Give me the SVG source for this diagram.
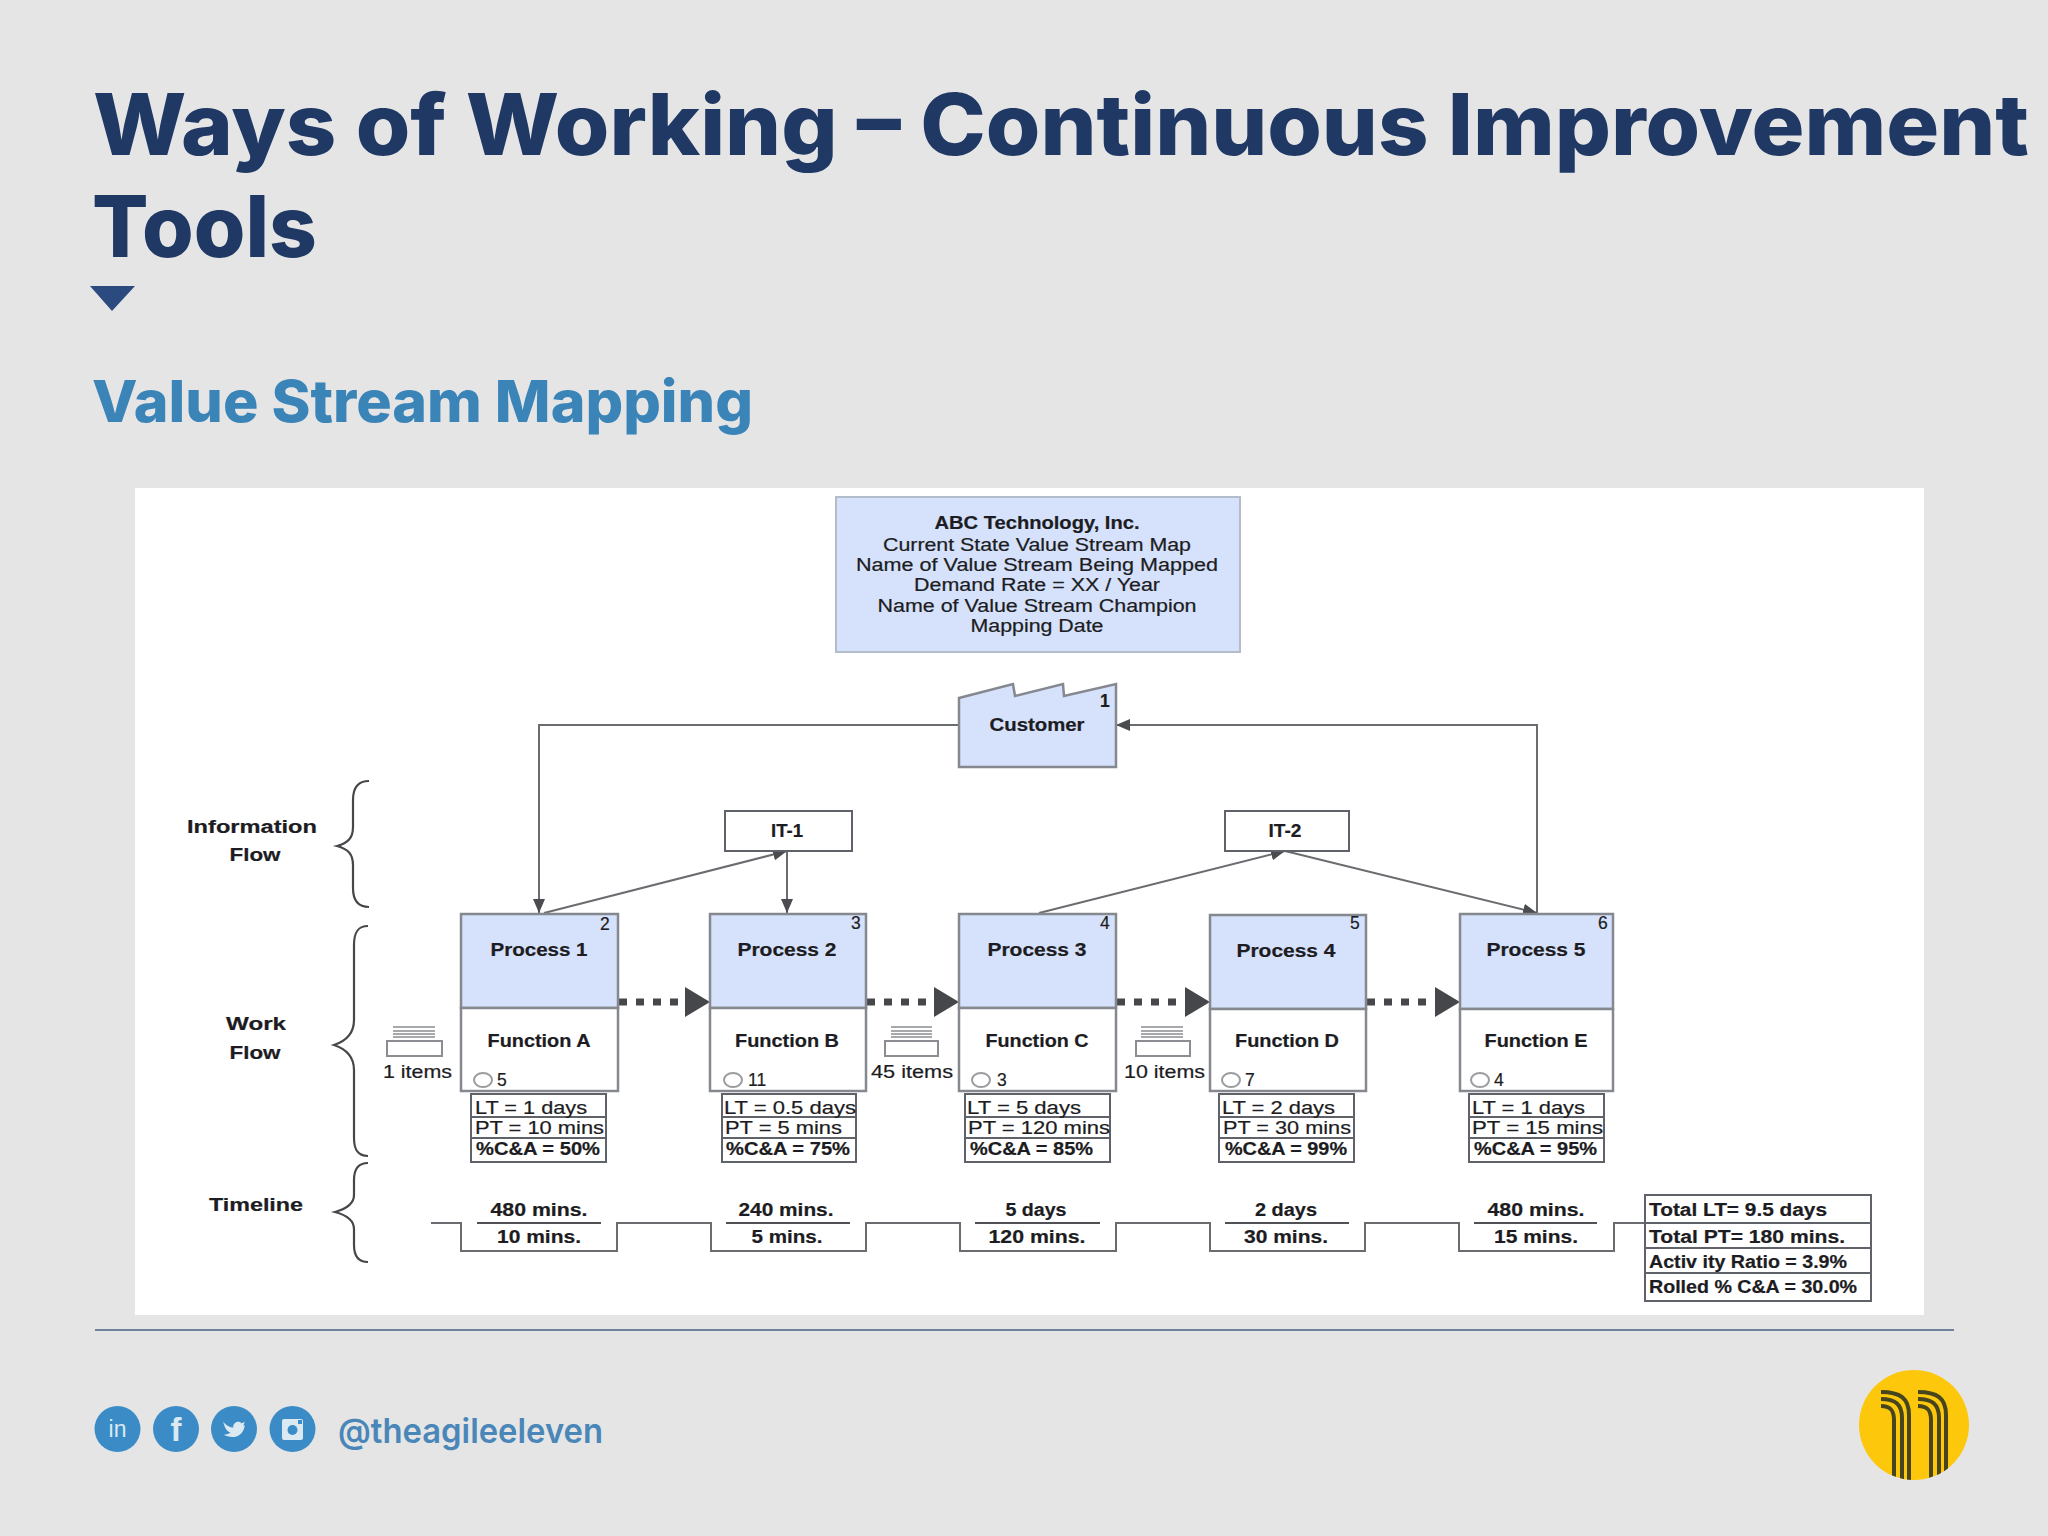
<svg xmlns="http://www.w3.org/2000/svg" width="2048" height="1536" viewBox="0 0 2048 1536">
<style>
.t{font-family:"Liberation Sans",Arial,sans-serif;fill:#1c1c22;font-size:17.500px;stroke:#1c1c22;stroke-width:.2}
.b{font-weight:700}
.m{text-anchor:middle}
.box{fill:#fff;stroke:#5f6268;stroke-width:2}
.proc{fill:#fff;stroke:#85888e;stroke-width:2.500}
.blue{fill:#d6e2fb;stroke:#85888e;stroke-width:2.500}
.head-box{fill:#d6e2fb;stroke:#b3bccb;stroke-width:2}
.edge{fill:none;stroke:#6a6c70;stroke-width:2}
.flow{fill:none;stroke:#45474a;stroke-width:7;stroke-dasharray:8 9}
.brace{fill:none;stroke:#45474a;stroke-width:2.200}
.stripe{fill:none;stroke:#8b8d92;stroke-width:1.600}
.head{font-family:Inter,"Liberation Sans",sans-serif;font-weight:800}
.logo{fill:none;stroke:#46451d;stroke-width:4}
.ic{fill:#3b8cc6}
.ict{font-family:"Liberation Sans",sans-serif;fill:#dbe9f3;text-anchor:middle}
</style>
<defs>
<marker id="a" markerUnits="userSpaceOnUse" markerWidth="14" markerHeight="12" refX="14" refY="6" orient="auto"><path d="M0 0L14 6L0 12Z" fill="#4a4c50"/></marker>
<clipPath id="logo-clip"><circle cx="1914" cy="1425" r="55"/></clipPath>
</defs>
<rect width="2048" height="1536" fill="#e5e5e6"/>
<g id="header">
<text class="head" x="93" y="155" font-size="85" fill="#1f3864" textLength="1936" lengthAdjust="spacingAndGlyphs">Ways of Working – Continuous Improvement</text>
<text class="head" x="92" y="257" font-size="85" fill="#1f3864" textLength="225" lengthAdjust="spacingAndGlyphs">Tools</text>
<path d="M90 286H135L112 311Z" fill="#2b4a80"/>
<text class="head" x="92" y="422" font-size="58" fill="#3a84b8" textLength="661" lengthAdjust="spacingAndGlyphs">Value Stream Mapping</text>
</g>
<rect id="card" x="135" y="488" width="1789" height="827" fill="#fff"/>
<g id="title-box">
<rect class="head-box" x="836" y="497" width="404" height="155"/>
<text class="t b m" x="1037" y="529" textLength="205" lengthAdjust="spacingAndGlyphs">ABC Technology, Inc.</text>
<text class="t m" x="1037" y="551" textLength="308" lengthAdjust="spacingAndGlyphs">Current State Value Stream Map</text>
<text class="t m" x="1037" y="571" textLength="362" lengthAdjust="spacingAndGlyphs">Name of Value Stream Being Mapped</text>
<text class="t m" x="1037" y="591" textLength="246" lengthAdjust="spacingAndGlyphs">Demand Rate = XX / Year</text>
<text class="t m" x="1037" y="612" textLength="319" lengthAdjust="spacingAndGlyphs">Name of Value Stream Champion</text>
<text class="t m" x="1037" y="632" textLength="133" lengthAdjust="spacingAndGlyphs">Mapping Date</text>
</g>
<g id="connectors">
<path class="edge" d="M960 725H539V913" marker-end="url(#a)"/>
<path class="edge" d="M1537 913V725H1116" marker-end="url(#a)"/>
<path class="edge" d="M544 913L787 851" marker-end="url(#a)"/>
<path class="edge" d="M787 851V913" marker-end="url(#a)"/>
<path class="edge" d="M1039 913L1285 851" marker-end="url(#a)"/>
<path class="edge" d="M1285 851L1537 913" marker-end="url(#a)"/>
<path class="flow" d="M619 1002H682"/><path d="M685 987L710 1002L685 1017Z" fill="#45474a"/>
<path class="flow" d="M867 1002H930"/><path d="M934 987L959 1002L934 1017Z" fill="#45474a"/>
<path class="flow" d="M1117 1002H1180"/><path d="M1185 987L1210 1002L1185 1017Z" fill="#45474a"/>
<path class="flow" d="M1367 1002H1430"/><path d="M1435 987L1460 1002L1435 1017Z" fill="#45474a"/>
</g>
<g id="customer">
<path class="blue" d="M959 698L1013 684L1015 696L1063 684L1064 696L1116 684V767H959Z"/>
<text class="t b m" x="1037" y="731" textLength="95" lengthAdjust="spacingAndGlyphs">Customer</text>
<text class="t b" x="1100" y="707" font-size="12">1</text>
</g>
<g id="it-1"><rect class="box" x="725" y="811" width="127" height="40"/><text class="t b m" x="787" y="837" textLength="32" lengthAdjust="spacingAndGlyphs">IT-1</text></g>
<g id="it-2"><rect class="box" x="1225" y="811" width="124" height="40"/><text class="t b m" x="1285" y="837" textLength="33" lengthAdjust="spacingAndGlyphs">IT-2</text></g>
<g id="labels">
<text class="t b m" x="252" y="833" font-size="20" textLength="130" lengthAdjust="spacingAndGlyphs">Information</text>
<text class="t b m" x="255" y="861" font-size="20" textLength="51" lengthAdjust="spacingAndGlyphs">Flow</text>
<text class="t b m" x="256" y="1030" font-size="20" textLength="60" lengthAdjust="spacingAndGlyphs">Work</text>
<text class="t b m" x="255" y="1059" font-size="20" textLength="51" lengthAdjust="spacingAndGlyphs">Flow</text>
<text class="t b m" x="256" y="1211" font-size="20" textLength="94" lengthAdjust="spacingAndGlyphs">Timeline</text>
<path class="brace" d="M369 781C358 781 353 787 353 800V827C353 838 348 843 337 846C348 849 353 854 353 865V888C353 901 358 907 369 907"/>
<path class="brace" d="M368 926C358 926 354 932 354 945V1020C354 1034 346 1041 334 1045C346 1049 354 1056 354 1070V1138C354 1150 358 1156 368 1156"/>
<path class="brace" d="M368 1163C358 1163 354 1169 354 1180V1195C354 1204 346 1209 335 1212C346 1215 354 1220 354 1229V1245C354 1256 358 1262 368 1262"/>
</g>
<g id="process-1">
<rect class="blue" x="461" y="914" width="157" height="94"/><rect class="proc" x="461" y="1008" width="157" height="83"/>
<text class="t b m" x="539" y="956" font-size="19" textLength="97" lengthAdjust="spacingAndGlyphs">Process 1</text>
<text class="t b m" x="539" y="1047" font-size="19" textLength="103" lengthAdjust="spacingAndGlyphs">Function A</text>
<text class="t" x="600" y="930" font-size="13" fill="#1f3864">2</text>
<ellipse class="box" cx="483" cy="1080" rx="9" ry="7" style="stroke:#9a9c9f"/><text class="t" x="497" y="1086" font-size="16">5</text>
</g>
<g id="process-2">
<rect class="blue" x="710" y="914" width="156" height="94"/><rect class="proc" x="710" y="1008" width="156" height="83"/>
<text class="t b m" x="787" y="956" font-size="19" textLength="99" lengthAdjust="spacingAndGlyphs">Process 2</text>
<text class="t b m" x="787" y="1047" font-size="19" textLength="104" lengthAdjust="spacingAndGlyphs">Function B</text>
<text class="t" x="851" y="929" font-size="13" fill="#1f3864">3</text>
<ellipse class="box" cx="733" cy="1080" rx="9" ry="7" style="stroke:#9a9c9f"/><text class="t" x="748" y="1086" font-size="16">11</text>
</g>
<g id="process-3">
<rect class="blue" x="959" y="914" width="157" height="94"/><rect class="proc" x="959" y="1008" width="157" height="83"/>
<text class="t b m" x="1037" y="956" font-size="19" textLength="99" lengthAdjust="spacingAndGlyphs">Process 3</text>
<text class="t b m" x="1037" y="1047" font-size="19" textLength="103" lengthAdjust="spacingAndGlyphs">Function C</text>
<text class="t" x="1100" y="929" font-size="13" fill="#1f3864">4</text>
<ellipse class="box" cx="981" cy="1080" rx="9" ry="7" style="stroke:#9a9c9f"/><text class="t" x="997" y="1086" font-size="16">3</text>
</g>
<g id="process-4">
<rect class="blue" x="1210" y="915" width="156" height="94"/><rect class="proc" x="1210" y="1009" width="156" height="82"/>
<text class="t b m" x="1286" y="957" font-size="19" textLength="99" lengthAdjust="spacingAndGlyphs">Process 4</text>
<text class="t b m" x="1287" y="1047" font-size="19" textLength="104" lengthAdjust="spacingAndGlyphs">Function D</text>
<text class="t" x="1350" y="929" font-size="13" fill="#1f3864">5</text>
<ellipse class="box" cx="1231" cy="1080" rx="9" ry="7" style="stroke:#9a9c9f"/><text class="t" x="1245" y="1086" font-size="16">7</text>
</g>
<g id="process-5">
<rect class="blue" x="1460" y="914" width="153" height="95"/><rect class="proc" x="1460" y="1009" width="153" height="82"/>
<text class="t b m" x="1536" y="956" font-size="19" textLength="99" lengthAdjust="spacingAndGlyphs">Process 5</text>
<text class="t b m" x="1536" y="1047" font-size="19" textLength="103" lengthAdjust="spacingAndGlyphs">Function E</text>
<text class="t" x="1598" y="929" font-size="13" fill="#1f3864">6</text>
<ellipse class="box" cx="1480" cy="1080" rx="9" ry="7" style="stroke:#9a9c9f"/><text class="t" x="1494" y="1086" font-size="16">4</text>
</g>
<g id="inventory-1">
<path class="stripe" d="M393 1027H435M393 1031H435M393 1034H435M393 1037H435"/><rect class="box" x="387" y="1041" width="55" height="15" style="stroke:#8b8d92"/>
<text class="t" x="383" y="1078" font-size="16" textLength="69" lengthAdjust="spacingAndGlyphs">1 items</text>
</g>
<g id="inventory-2">
<path class="stripe" d="M891 1027H932M891 1031H932M891 1034H932M891 1037H932"/><rect class="box" x="885" y="1041" width="53" height="15" style="stroke:#8b8d92"/>
<text class="t" x="871" y="1078" font-size="16" textLength="82" lengthAdjust="spacingAndGlyphs">45 items</text>
</g>
<g id="inventory-3">
<path class="stripe" d="M1141 1027H1183M1141 1031H1183M1141 1034H1183M1141 1037H1183"/><rect class="box" x="1136" y="1041" width="54" height="15" style="stroke:#8b8d92"/>
<text class="t" x="1124" y="1078" font-size="16" textLength="81" lengthAdjust="spacingAndGlyphs">10 items</text>
</g>
<g id="data-1">
<rect class="box" x="471" y="1094" width="135" height="68"/><path class="edge" d="M471 1117H606M471 1138H606" style="stroke:#5f6268"/>
<text class="t" x="475" y="1114" textLength="112" lengthAdjust="spacingAndGlyphs">LT = 1 days</text>
<text class="t" x="475" y="1134" textLength="129" lengthAdjust="spacingAndGlyphs">PT = 10 mins</text>
<text class="t b" x="476" y="1155" textLength="124" lengthAdjust="spacingAndGlyphs">%C&amp;A = 50%</text>
</g>
<g id="data-2">
<rect class="box" x="722" y="1094" width="134" height="68"/><path class="edge" d="M722 1117H856M722 1138H856" style="stroke:#5f6268"/>
<text class="t" x="724" y="1114" textLength="132" lengthAdjust="spacingAndGlyphs">LT = 0.5 days</text>
<text class="t" x="725" y="1134" textLength="117" lengthAdjust="spacingAndGlyphs">PT = 5 mins</text>
<text class="t b" x="726" y="1155" textLength="124" lengthAdjust="spacingAndGlyphs">%C&amp;A = 75%</text>
</g>
<g id="data-3">
<rect class="box" x="965" y="1094" width="145" height="68"/><path class="edge" d="M965 1117H1110M965 1138H1110" style="stroke:#5f6268"/>
<text class="t" x="967" y="1114" textLength="114" lengthAdjust="spacingAndGlyphs">LT = 5 days</text>
<text class="t" x="968" y="1134" textLength="142" lengthAdjust="spacingAndGlyphs">PT = 120 mins</text>
<text class="t b" x="970" y="1155" textLength="123" lengthAdjust="spacingAndGlyphs">%C&amp;A = 85%</text>
</g>
<g id="data-4">
<rect class="box" x="1219" y="1094" width="135" height="68"/><path class="edge" d="M1219 1117H1354M1219 1138H1354" style="stroke:#5f6268"/>
<text class="t" x="1222" y="1114" textLength="113" lengthAdjust="spacingAndGlyphs">LT = 2 days</text>
<text class="t" x="1223" y="1134" textLength="128" lengthAdjust="spacingAndGlyphs">PT = 30 mins</text>
<text class="t b" x="1225" y="1155" textLength="122" lengthAdjust="spacingAndGlyphs">%C&amp;A = 99%</text>
</g>
<g id="data-5">
<rect class="box" x="1469" y="1094" width="135" height="68"/><path class="edge" d="M1469 1117H1604M1469 1138H1604" style="stroke:#5f6268"/>
<text class="t" x="1472" y="1114" textLength="113" lengthAdjust="spacingAndGlyphs">LT = 1 days</text>
<text class="t" x="1472" y="1134" textLength="131" lengthAdjust="spacingAndGlyphs">PT = 15 mins</text>
<text class="t b" x="1474" y="1155" textLength="123" lengthAdjust="spacingAndGlyphs">%C&amp;A = 95%</text>
</g>
<g id="timeline">
<path class="edge" d="M431 1223H461V1251H617V1223H711V1251H866V1223H960V1251H1116V1223H1210V1251H1365V1223H1459V1251H1614V1223H1645"/>
<path class="edge" d="M477 1223H601M726 1223H850M975 1223H1100M1225 1223H1349M1474 1223H1597" style="stroke:#4f5155"/>
<text class="t b m" x="539" y="1216" textLength="97" lengthAdjust="spacingAndGlyphs">480 mins.</text>
<text class="t b m" x="786" y="1216" textLength="95" lengthAdjust="spacingAndGlyphs">240 mins.</text>
<text class="t b m" x="1036" y="1216" textLength="61" lengthAdjust="spacingAndGlyphs">5 days</text>
<text class="t b m" x="1286" y="1216" textLength="62" lengthAdjust="spacingAndGlyphs">2 days</text>
<text class="t b m" x="1536" y="1216" textLength="97" lengthAdjust="spacingAndGlyphs">480 mins.</text>
<text class="t b m" x="539" y="1243" textLength="84" lengthAdjust="spacingAndGlyphs">10 mins.</text>
<text class="t b m" x="787" y="1243" textLength="71" lengthAdjust="spacingAndGlyphs">5 mins.</text>
<text class="t b m" x="1037" y="1243" textLength="97" lengthAdjust="spacingAndGlyphs">120 mins.</text>
<text class="t b m" x="1286" y="1243" textLength="84" lengthAdjust="spacingAndGlyphs">30 mins.</text>
<text class="t b m" x="1536" y="1243" textLength="84" lengthAdjust="spacingAndGlyphs">15 mins.</text>
</g>
<g id="summary">
<rect class="box" x="1645" y="1195" width="226" height="106"/><path class="edge" d="M1645 1223H1871M1645 1248H1871M1645 1273H1871" style="stroke:#5f6268"/>
<text class="t b" x="1649" y="1216" textLength="178" lengthAdjust="spacingAndGlyphs">Total LT= 9.5 days</text>
<text class="t b" x="1649" y="1243" textLength="196" lengthAdjust="spacingAndGlyphs">Total PT= 180 mins.</text>
<text class="t b" x="1649" y="1268" textLength="198" lengthAdjust="spacingAndGlyphs">Activ ity Ratio = 3.9%</text>
<text class="t b" x="1649" y="1293" textLength="208" lengthAdjust="spacingAndGlyphs">Rolled % C&amp;A = 30.0%</text>
</g>
<path id="rule" d="M95 1330H1954" stroke="#6f8299" stroke-width="2"/>
<g id="social">
<circle class="ic" cx="117.500" cy="1429" r="23"/><text class="ict" x="117.500" y="1437" font-size="23">in</text>
<circle class="ic" cx="176" cy="1429" r="23"/><text class="ict" x="176" y="1441" font-size="33" font-weight="700">f</text>
<circle class="ic" cx="234" cy="1429" r="23"/><path transform="translate(234 1429) scale(.72) translate(-237 -1430)" d="M222 1420C227 1426 232 1428 236 1428C235 1421 243 1417 248 1422L252 1420L250 1425L252 1425C250 1437 242 1441 235 1441C230 1441 226 1440 223 1438C227 1438 230 1437 232 1435C227 1434 224 1428 222 1420Z" fill="#dbe9f3"/>
<circle class="ic" cx="292.500" cy="1429" r="23"/><rect x="282" y="1419" width="21" height="21" rx="2" fill="#dbe9f3"/><circle cx="292.500" cy="1430" r="5" fill="#3b8cc6"/><rect x="298" y="1420" width="4" height="4" fill="#3b8cc6"/>
<text x="338" y="1443" font-family="Inter,'Liberation Sans',sans-serif" font-weight="600" font-size="34" fill="#4a87b8" textLength="265" lengthAdjust="spacingAndGlyphs">@theagileeleven</text>
</g>
<g id="logo">
<circle cx="1914" cy="1425" r="55" fill="#fdc70c"/>
<g clip-path="url(#logo-clip)">
<path class="logo" d="M1881 1392C1900 1392 1909 1398 1909 1415V1480M1881 1399C1895 1399 1902 1404 1902 1418V1480M1881 1406C1890 1406 1894 1410 1894 1420V1480"/>
<path class="logo" d="M1918 1392C1937 1392 1946 1398 1946 1415V1480M1918 1399C1932 1399 1939 1404 1939 1418V1480M1918 1406C1927 1406 1931 1410 1931 1420V1480"/>
</g>
</g>
</svg>
